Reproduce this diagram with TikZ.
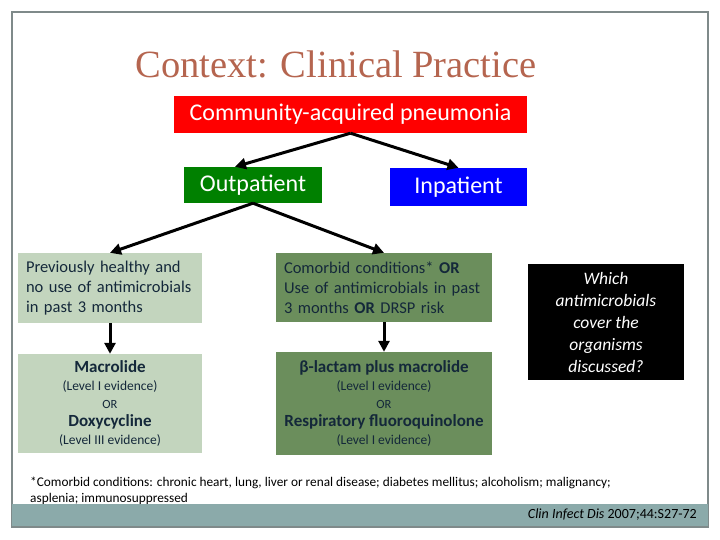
\documentclass[tikz,border=0pt]{standalone}
\usepackage{fontspec}
\setmainfont{Carlito}
\newfontfamily\titlefont{Liberation Serif}
\usetikzlibrary{arrows.meta,positioning}
\definecolor{titlerust}{HTML}{B5654F}
\definecolor{capred}{HTML}{FF0000}
\definecolor{outgreen}{HTML}{008000}
\definecolor{inblue}{HTML}{0000FF}
\definecolor{sage}{HTML}{C3D5BE}
\definecolor{moss}{HTML}{6B8E5C}
\definecolor{ink}{HTML}{14283A}
\definecolor{barteal}{HTML}{8BAAAA}
\definecolor{framegray}{HTML}{7F8A8A}
\newcommand{\drug}[1]{{\fontsize{17}{18}\selectfont\bfseries #1}}
\newcommand{\lvl}[1]{{\fontsize{13.5}{18}\selectfont #1}}
\newcommand{\orword}{{\fontsize{12.5}{18}\selectfont OR}}
\tikzset{
    tag/.style={
        rectangle,
        inner sep=0pt,
        text=white,
        font=\fontsize{24}{28}\selectfont
    },
    cond/.style={
        rectangle,
        inner xsep=8pt,
        inner ysep=0pt,
        text=ink,
        align=left,
        font=\fontsize{16.5}{20}\selectfont
    },
    drugbox/.style={
        rectangle,
        inner sep=0pt,
        text=ink,
        align=center,
        font=\fontsize{13.5}{18}\selectfont
    },
    link/.style={
        -{Triangle[length=11pt,width=11pt]},
        line width=3pt
    }
}

\begin{document}
\begin{tikzpicture}[x=1pt,y=-1pt]
\useasboundingbox (0,0) rectangle (720,540);
\draw[framegray,line width=1.5pt] (12,12) rectangle (708,527);
\node[text=titlerust,font=\titlefont\fontsize{38.5}{44}\selectfont] (title) at (336,64) {Context: Clinical Practice};
% top of the tree
\node[tag,fill=capred,minimum width=353pt,minimum height=37pt] (cap) at (350.5,114.5) {Community-acquired pneumonia};
\node[tag,fill=outgreen,minimum width=138pt,minimum height=36pt] (out) at (253,185) {Outpatient};
\node[tag,fill=inblue,minimum width=137pt,minimum height=38pt] (in) at (458.5,187) {Inpatient};
% outpatient branches
\node[cond,fill=sage,text width=168pt,minimum height=70pt] (healthy) at (110,288) {Previously healthy and\\no use of antimicrobials\\in past 3 months};
\node[drugbox,fill=sage,minimum width=184pt,minimum height=99pt] (mac) at (110,403.5) {\drug{Macrolide}\\\lvl{(Level I evidence)}\\\orword\\\drug{Doxycycline}\\\lvl{(Level III evidence)}};
\node[cond,fill=moss,text width=200pt,minimum height=69pt] (comorb) at (384,287.5) {Comorbid conditions* \textbf{OR}\\Use of antimicrobials in past\\3 months \textbf{OR} DRSP risk};
\node[drugbox,fill=moss,minimum width=216pt,minimum height=103pt] (beta) at (384,403.5) {\drug{β-lactam plus macrolide}\\\lvl{(Level I evidence)}\\\orword\\\drug{Respiratory fluoroquinolone}\\\lvl{(Level I evidence)}};
\node[fill=black,text=white,align=center,minimum width=156pt,minimum height=116pt,inner sep=0pt,font=\itshape\fontsize{17.5}{22}\selectfont] (ask) at (606,322) {Which\\antimicrobials\\cover the\\organisms\\discussed?};
\draw[link] (cap.south) -- ([xshift=-18pt]out.north);
\draw[link] (cap.south) -- (in.north);
\draw[link] (out.south) -- (healthy.north);
\draw[link] (out.south) -- (comorb.north);
\draw[link] (healthy.south) -- (mac.north);
\draw[link] (comorb.south) -- (beta.north);
% footnote and source
\node[anchor=north west,align=left,inner sep=0pt,font=\fontsize{13.3}{16}\selectfont] (note) at (30,477) {*Comorbid conditions: chronic heart, lung, liver or renal disease; diabetes mellitus; alcoholism; malignancy;\\asplenia; immunosuppressed};
\fill[barteal] (12,503.5) rectangle (708,527);
\draw[framegray,line width=1.5pt] (12,527) -- (708,527);
\node[anchor=east,inner sep=0pt,font=\fontsize{14}{16}\selectfont] (src) at (697,515) {\textit{Clin Infect Dis} 2007;44:S27-72};
\end{tikzpicture}
\end{document}
